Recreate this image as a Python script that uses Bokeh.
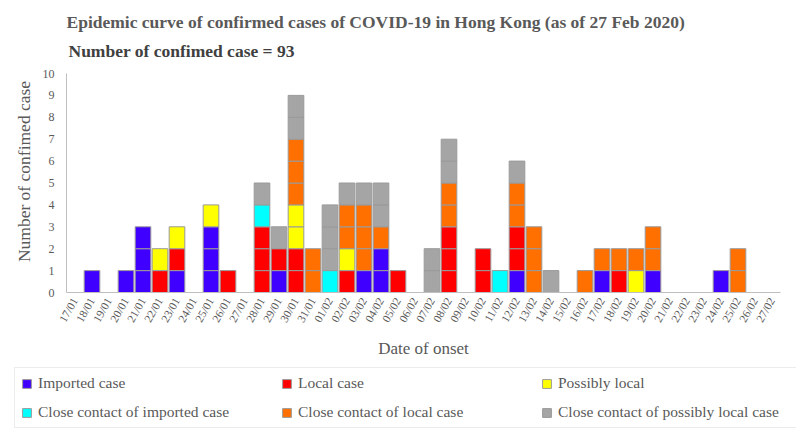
from math import pi
from bokeh.plotting import figure
from bokeh.models import ColumnDataSource, Range1d, Label, Legend, LegendItem, FixedTicker
from bokeh.embed import file_html
from bokeh.resources import INLINE

# ---------------- data ----------------
dates = ["17/01", "18/01", "19/01", "20/01", "21/01", "22/01", "23/01", "24/01",
         "25/01", "26/01", "27/01", "28/01", "29/01", "30/01", "31/01",
         "01/02", "02/02", "03/02", "04/02", "05/02", "06/02", "07/02", "08/02",
         "09/02", "10/02", "11/02", "12/02", "13/02", "14/02", "15/02", "16/02",
         "17/02", "18/02", "19/02", "20/02", "21/02", "22/02", "23/02", "24/02",
         "25/02", "26/02", "27/02"]

imported = [0, 1, 0, 1, 3, 0, 1, 0, 3, 0, 0, 0, 1, 0, 0,
            0, 0, 1, 2, 0, 0, 0, 0, 0, 0, 0, 1, 0, 0, 0, 0, 1, 0, 0, 1, 0, 0, 0, 1, 0, 0, 0]
local = [0, 0, 0, 0, 0, 1, 1, 0, 0, 1, 0, 3, 1, 2, 0,
         0, 1, 0, 0, 1, 0, 0, 3, 0, 2, 0, 2, 0, 0, 0, 0, 0, 1, 0, 0, 0, 0, 0, 0, 0, 0, 0]
possibly_local = [0, 0, 0, 0, 0, 1, 1, 0, 1, 0, 0, 0, 0, 2, 0,
                  0, 1, 0, 0, 0, 0, 0, 0, 0, 0, 0, 0, 0, 0, 0, 0, 0, 0, 1, 0, 0, 0, 0, 0, 0, 0, 0]
close_imported = [0, 0, 0, 0, 0, 0, 0, 0, 0, 0, 0, 1, 0, 0, 0,
                  1, 0, 0, 0, 0, 0, 0, 0, 0, 0, 1, 0, 0, 0, 0, 0, 0, 0, 0, 0, 0, 0, 0, 0, 0, 0, 0]
close_local = [0, 0, 0, 0, 0, 0, 0, 0, 0, 0, 0, 0, 0, 3, 2,
               0, 2, 3, 1, 0, 0, 0, 2, 0, 0, 0, 2, 3, 0, 0, 1, 1, 1, 1, 2, 0, 0, 0, 0, 2, 0, 0]
close_possibly = [0, 0, 0, 0, 0, 0, 0, 0, 0, 0, 0, 1, 1, 2, 0,
                  3, 1, 1, 2, 0, 0, 2, 2, 0, 0, 0, 1, 0, 1, 0, 0, 0, 0, 0, 0, 0, 0, 0, 0, 0, 0, 0]

series_names = ["Imported case", "Local case", "Possibly local",
                "Close contact of imported case", "Close contact of local case",
                "Close contact of possibly local case"]
series_values = [imported, local, possibly_local, close_imported, close_local, close_possibly]
series_colors = ["#4000FF", "#FF0000", "#FFFF00", "#00FFFF", "#FF7000", "#A5A5A5"]

y_ticks = [0, 1, 2, 3, 4, 5, 6, 7, 8, 9, 10]

title_text = "Epidemic curve of confirmed cases of COVID-19 in Hong Kong (as of 27 Feb 2020)"
subtitle_text = "Number of confimed case = 93"
y_label_text = "Number of confimed case"
x_label_text = "Date of onset"

# ---------------- unit boxes (one box per case) ----------------
positions = list(range(len(dates)))
boxes = {n: dict(x=[], bottom=[], top=[]) for n in series_names}
for i in positions:
    level = 0
    for n, vals in zip(series_names, series_values):
        for _ in range(vals[i]):
            boxes[n]["x"].append(i)
            boxes[n]["bottom"].append(level)
            boxes[n]["top"].append(level + 1)
            level += 1

SERIF = "Liberation Serif"
GREY_TXT = "#595959"
AXIS_COL = "#BFBFBF"

# the frame covers the whole canvas; the axes sit at fixed data locations
W, H = 798, 434
FR_L, FR_R, FR_T, FR_B = 12, 796, 0, 431
PX_X = 17.0    # pixels per day
PX_Y = 21.9    # pixels per case
AX_LEFT, AX_RIGHT, AX_TOP, AX_BOTTOM = 66, 780, 73, 292
x_lo = -0.5 - (AX_LEFT - FR_L) / PX_X
x_hi = len(dates) - 0.5 + (FR_R - AX_RIGHT) / PX_X
y_hi = 10 + (AX_TOP - FR_T) / PX_Y
y_lo = -(FR_B - AX_BOTTOM) / PX_Y

p = figure(width=W, height=H, x_range=Range1d(x_lo, x_hi), y_range=Range1d(y_lo, y_hi),
           output_backend="svg", toolbar_location=None,
           min_border_left=FR_L, min_border_right=W - FR_R,
           min_border_top=FR_T, min_border_bottom=H - FR_B)
p.outline_line_color = None
p.grid.visible = False

renderers = {}
for n, c in zip(series_names, series_colors):
    r = p.vbar(x="x", bottom="bottom", top="top", width=0.92, source=ColumnDataSource(boxes[n]),
               fill_color=c, line_color="#9A9A9A", line_width=1)
    renderers[n] = r

# text placement helpers (pixel position -> data position)
def px_to_x(px):
    return -0.5 + (px - AX_LEFT) / PX_X

def py_to_y(py):
    return (AX_BOTTOM - py) / PX_Y

p.add_layout(Label(x=px_to_x(66), y=py_to_y(21), text=title_text, text_font=SERIF,
                   text_font_size="17.5px", text_font_style="bold", text_color=GREY_TXT,
                   text_baseline="middle", text_align="left"))
p.add_layout(Label(x=px_to_x(68), y=py_to_y(50), text=subtitle_text, text_font=SERIF,
                   text_font_size="17.5px", text_font_style="bold", text_color="#404040",
                   text_baseline="middle", text_align="left"))
p.add_layout(Label(x=px_to_x(23), y=py_to_y(171), text=y_label_text, text_font=SERIF,
                   text_font_size="17.5px", text_color=GREY_TXT, angle=pi / 2,
                   text_baseline="middle", text_align="center"))

# axes
p.yaxis.fixed_location = -0.5
p.yaxis.bounds = (0, 10)
p.yaxis.ticker = FixedTicker(ticks=y_ticks)
p.xaxis.fixed_location = 0
p.xaxis.bounds = (-0.5, len(dates) - 0.5)
p.xaxis.ticker = FixedTicker(ticks=positions)
p.xaxis.major_label_overrides = {i: d for i, d in zip(positions, dates)}
p.xaxis.axis_label = x_label_text
for ax in (p.xaxis, p.yaxis):
    ax.axis_line_color = AXIS_COL
    ax.axis_line_width = 1
    ax.major_tick_line_color = None
    ax.minor_tick_line_color = None
    ax.major_tick_out = 0
    ax.major_tick_in = 0
    ax.axis_label_text_font = SERIF
    ax.axis_label_text_font_size = "17px"
    ax.axis_label_text_font_style = "normal"
    ax.axis_label_text_color = GREY_TXT
    ax.major_label_text_font = SERIF
    ax.major_label_text_color = GREY_TXT
p.yaxis.major_label_text_font_size = "12px"
p.yaxis.major_label_standoff = 12
p.xaxis.major_label_text_font_size = "11.5px"
p.xaxis.major_label_orientation = 1.05
p.xaxis.major_label_standoff = 6
p.xaxis.axis_label_standoff = 9

# ---------------- legend (row-major order in a 2 x 3 grid) ----------------
legend_order = ["Imported case", "Close contact of imported case",
                "Local case", "Close contact of local case",
                "Possibly local", "Close contact of possibly local case"]
items = [LegendItem(label=n, renderers=[renderers[n]]) for n in legend_order]
leg = Legend(items=items, ncols=3, location=(2, 3),
             border_line_color="#D9D9D9", border_line_width=1,
             background_fill_color="white", background_fill_alpha=1,
             padding=6, margin=0, spacing=11,
             glyph_width=11, glyph_height=11, label_height=11, label_standoff=6,
             label_width=232, label_text_font=SERIF, label_text_font_size="15.5px",
             label_text_color=GREY_TXT)
p.add_layout(leg, "center")

open("out.html", "w").write(file_html(p, INLINE))
